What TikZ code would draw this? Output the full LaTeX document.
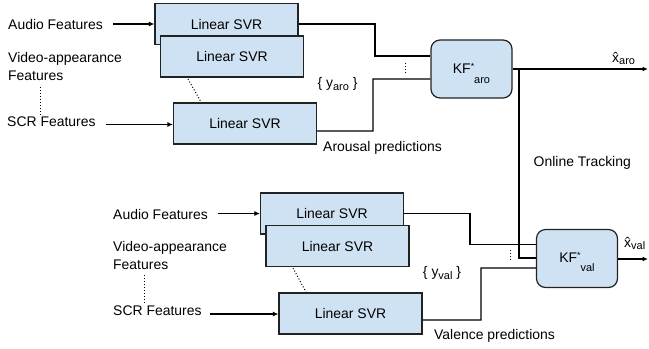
\documentclass[tikz,border=0pt]{standalone}
\usepackage{fontspec}
\setmainfont{Liberation Sans}
\usetikzlibrary{arrows.meta,calc}
\definecolor{boxblue}{HTML}{CFE2F3}
\definecolor{edge}{HTML}{222222}
\newcommand{\subfnt}{\fontsize{11}{12}\selectfont}
\begin{document}
\begin{tikzpicture}[x=1bp,y=-1bp,
  svr/.style={draw=edge,fill=boxblue,line width=1.2bp,minimum width=143bp,minimum height=41bp,
    inner sep=0pt,font=\fontsize{14}{16}\selectfont,text height=10bp,text depth=0bp},
  kf/.style={svr,rounded corners=9bp,minimum width=81bp,minimum height=58bp,text depth=1.5bp},
  lbl/.style={font=\fontsize{14}{17.3}\selectfont,inner sep=0pt},
  conn/.style={line width=1.2bp,draw=black},
  arr/.style={conn,-{Latex[length=5.5bp,width=5bp]}},
  dotl/.style={line width=1bp,dash pattern=on 1bp off 2bp}]
\useasboundingbox (0,0) rectangle (649,348);

% ---------- Arousal part ----------
\node[lbl,anchor=base west] (a1) at (8,29.5) {Audio Features};
\node[lbl,anchor=north west,align=left] (a2) at (8,52.6) {Video-appearance\\Features};
\node[lbl,anchor=base west] (a3) at (7,126) {SCR Features};

\node[svr] (s1) at (226.5,24) {Linear SVR};
\node[svr] (s2) at (232,56.5) {Linear SVR};
\node[svr] (s3) at (245,123.5) {Linear SVR};

\node[kf] (kfa) at (471.5,69) {KF\raisebox{4bp}{\fontsize{9}{9}\selectfont*}\raisebox{-10bp}{\subfnt aro}};

\coordinate (a2d1) at (40,87);
\coordinate (a2d2) at (40,117);
\draw[dotl] (a2d1) -- (a2d2);
\coordinate (s2d1) at (188,79);
\coordinate (s2d2) at (201,102);
\draw[dotl] (s2d1) -- (s2d2);

\draw[arr] (113,24) -- (s1.west);
\draw[arr] (106,124.5) -- (s3.west |- 0,124.5);

\draw[conn] (s1.east) -- (375,24) -- (375,56) -- (kfa.west |- 0,56);
\draw[conn] ([yshift=-7.5bp]s3.east) -- (373,131) -- (373,79) -- (kfa.west |- 0,79);
\coordinate (da1) at (405,63);
\coordinate (da2) at (405,74);
\draw[dotl] (da1) -- (da2);

\node[lbl,anchor=base] (ya) at (337.5,87) {\{ y\raisebox{-3bp}{\subfnt aro} \}};
\node[lbl,anchor=base west] (apred) at (323,151.7) {Arousal predictions};

\coordinate (outa) at (648,69);
\draw[arr] (kfa.east) -- (outa);
\node[lbl,anchor=base west] (xa) at (612,62.5) {\^{x}\raisebox{-2bp}{\subfnt aro}};

\node[lbl,anchor=base west] (ot) at (533.5,166) {Online Tracking};

% ---------- Valence part ----------
\node[lbl,anchor=base west] (v1) at (113,219) {Audio Features};
\node[lbl,anchor=north west,align=left] (v2) at (113,241.6) {Video-appearance\\Features};
\node[lbl,anchor=base west] (v3) at (113,315) {SCR Features};

\node[svr] (t1) at (332,213.5) {Linear SVR};
\node[svr] (t2) at (337.5,246) {Linear SVR};
\node[svr] (t3) at (350.5,313.5) {Linear SVR};

\node[kf] (kfv) at (577,258.5) {KF\raisebox{4bp}{\fontsize{9}{9}\selectfont*}\raisebox{-8.5bp}{\subfnt val}};

\coordinate (v2d1) at (144,275);
\coordinate (v2d2) at (144,305);
\draw[dotl] (v2d1) -- (v2d2);
\coordinate (t2d1) at (293,268);
\coordinate (t2d2) at (306,292);
\draw[dotl] (t2d1) -- (t2d2);

\draw[arr] (218,213.5) -- (t1.west);
\draw[arr] (210,314) -- (t3.west |- 0,314);

\draw[conn] (t1.east) -- (470,213.5) -- (470,244.5) -- (kfv.west |- 0,244.5);
\draw[conn] ([yshift=-6.5bp]t3.east) -- (481,320) -- (481,268) -- (kfv.west |- 0,268);
\coordinate (dv1) at (510,250);
\coordinate (dv2) at (510,262);
\draw[dotl] (dv1) -- (dv2);

\node[lbl,anchor=base] (yv) at (442,276) {\{ y\raisebox{-3bp}{\subfnt val} \}};
\node[lbl,anchor=base west] (vpred) at (434,339) {Valence predictions};

% online tracking link
\coordinate (otj) at (519,69);
\draw[conn] (otj) -- (519,258) -- (kfv.west |- 0,258);

\coordinate (outv) at (648,259);
\draw[arr] (kfv.east |- 0,259) -- (outv);
\node[lbl,anchor=base west] (xv) at (624,247) {\^{x}\raisebox{-2bp}{\subfnt val}};
\end{tikzpicture}
\end{document}
